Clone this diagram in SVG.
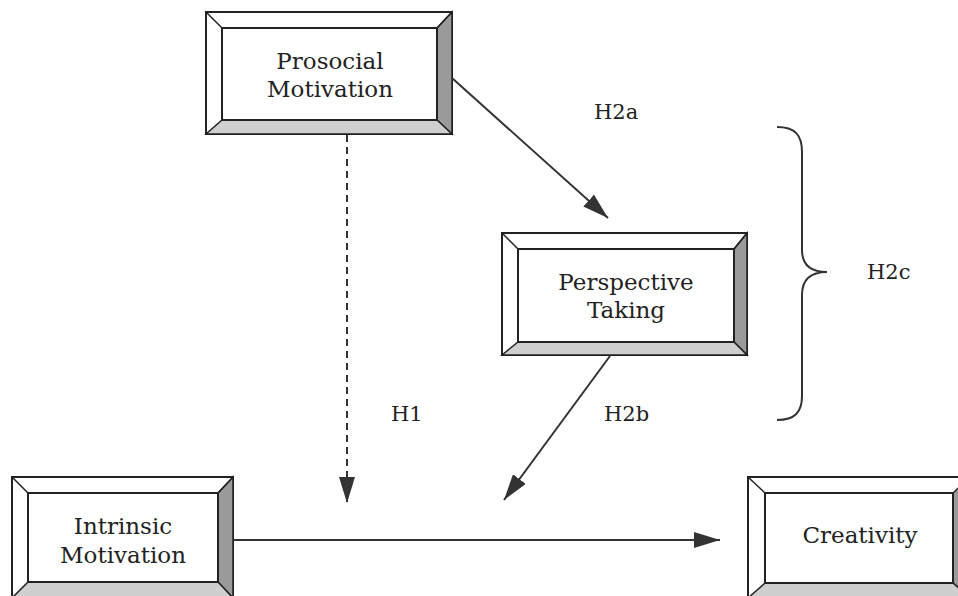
<svg xmlns="http://www.w3.org/2000/svg" width="958" height="596" viewBox="0 0 958 596">
<style>
.o{fill:#fff;stroke:#222;stroke-width:2}
.r{fill:#9a9a9a;stroke:#222;stroke-width:1.5;stroke-linejoin:miter}
.b{fill:#cfcfcf;stroke:#222;stroke-width:1.5}
.d{fill:none;stroke:#222;stroke-width:1.5}
.i{fill:#fff;stroke:#222;stroke-width:2}
.t{font-family:"DejaVu Serif","Liberation Serif",serif;font-size:23px;fill:#222;text-anchor:middle}
.l{font-family:"DejaVu Serif","Liberation Serif",serif;font-size:21px;fill:#222}
.c{fill:none;stroke:#333;stroke-width:2}
</style>
<defs>
<marker id="ah" markerWidth="26" markerHeight="16" refX="26" refY="8" orient="auto" markerUnits="userSpaceOnUse">
<path d="M0,0 L26,8 L0,16 Z" fill="#333"/>
</marker>
</defs>
<g id="prosocial">
<rect class="o" x="206" y="12" width="246" height="122"/>
<polygon class="r" points="452,12 437,28 437,120 452,134"/>
<polygon class="b" points="206,134 222,120 437,120 452,134"/>
<path class="d" d="M206,12 L222,28 M452,12 L437,28"/>
<rect class="i" x="222" y="28" width="215" height="92"/>
<text class="t" x="330" y="69">Prosocial</text>
<text class="t" x="330" y="97">Motivation</text>
</g>
<g id="perspective">
<rect class="o" x="502" y="233" width="245" height="122"/>
<polygon class="r" points="747,233 734,249 734,342 747,355"/>
<polygon class="b" points="502,355 518,342 734,342 747,355"/>
<path class="d" d="M502,233 L518,249 M747,233 L734,249"/>
<rect class="i" x="518" y="249" width="216" height="93"/>
<text class="t" x="626" y="290">Perspective</text>
<text class="t" x="626" y="318">Taking</text>
</g>
<g id="intrinsic">
<rect class="o" x="12" y="477" width="221" height="124"/>
<polygon class="r" points="233,477 218,493 218,582 233,598"/>
<polygon class="b" points="12,598 28,582 218,582 233,598"/>
<path class="d" d="M12,477 L28,493 M233,477 L218,493"/>
<rect class="i" x="28" y="493" width="190" height="89"/>
<text class="t" x="123" y="534">Intrinsic</text>
<text class="t" x="123" y="563">Motivation</text>
</g>
<g id="creativity">
<rect class="o" x="748" y="477" width="222" height="124"/>
<polygon class="r" points="970,477 953,493 953,583 970,598"/>
<polygon class="b" points="748,598 765,583 953,583 970,598"/>
<path class="d" d="M748,477 L765,493"/>
<rect class="i" x="765" y="493" width="188" height="90"/>
<text class="t" x="860" y="543">Creativity</text>
</g>
<g id="connectors">
<line class="c" x1="452" y1="78" x2="608" y2="218" marker-end="url(#ah)"/>
<line class="c" x1="347" y1="135" x2="347" y2="503" stroke-dasharray="7,5" marker-end="url(#ah)"/>
<line class="c" x1="610" y1="356" x2="504" y2="500" marker-end="url(#ah)"/>
<line class="c" x1="233" y1="540" x2="720" y2="540" marker-end="url(#ah)"/>
<path class="c" d="M777,127 C795,127 802,135 802,152 L802,250 C802,265 810,272 827,272 C810,272 802,280 802,295 L802,396 C802,412 795,420 777,420"/>
</g>
<g id="labels">
<text class="l" x="594" y="119">H2a</text>
<text class="l" x="867" y="279">H2c</text>
<text class="l" x="391" y="421">H1</text>
<text class="l" x="604" y="421">H2b</text>
</g>
</svg>
